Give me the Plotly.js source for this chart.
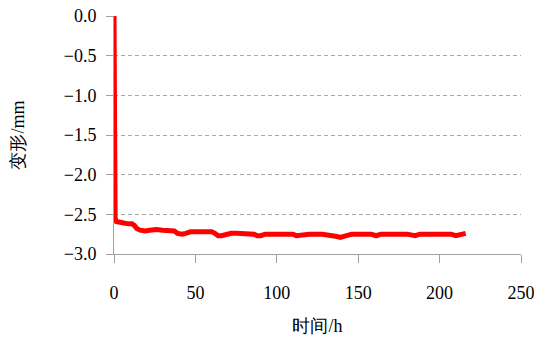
<!DOCTYPE html>
<html>
<head>
<meta charset="utf-8">
<script src="https://cdn.plot.ly/plotly-3.0.1.min.js"></script>
<style>html,body{margin:0;padding:0;background:#fff;}#chart{width:534px;height:341px;}</style>
</head>
<body>
<div id="chart"></div>
<script>
// time in hours
const timeH = [0, 0.3, 0.5, 0.7, 1.5, 3, 6, 9, 11, 12.5, 14, 16, 19, 22, 24, 26, 30, 35, 37, 39, 42, 44, 47, 50, 55, 60, 62, 64, 66, 69, 72, 75, 80, 84, 86, 88, 90, 93, 97, 105, 110, 112, 115, 120, 128, 134, 137, 139, 142, 146, 152, 158, 161, 164, 170, 180, 185, 188, 192, 200, 207, 210, 213, 216];
// deformation in mm
const deformMm = [0, -0.78, -0.80, -2.55, -2.59, -2.60, -2.61, -2.62, -2.62, -2.64, -2.68, -2.70, -2.71, -2.70, -2.69, -2.69, -2.70, -2.70, -2.71, -2.74, -2.75, -2.74, -2.72, -2.72, -2.72, -2.72, -2.74, -2.77, -2.77, -2.75, -2.74, -2.74, -2.74, -2.74, -2.75, -2.77, -2.77, -2.75, -2.75, -2.75, -2.75, -2.77, -2.76, -2.75, -2.75, -2.76, -2.78, -2.79, -2.77, -2.75, -2.75, -2.75, -2.77, -2.75, -2.75, -2.75, -2.77, -2.75, -2.75, -2.75, -2.75, -2.77, -2.75, -2.74];
const xTicks = [0, 50, 100, 150, 200, 250];
const yTicks = [0, -0.5, -1, -1.5, -2, -2.5, -3];
const yTickText = ['0.0', '\u22120.5', '\u22121.0', '\u22121.5', '\u22122.0', '\u22122.5', '\u22123.0'];

const fontFam = "'Liberation Serif', 'DejaVu Serif', serif";
const trace = {
  x: timeH, y: deformMm, type: 'scatter', mode: 'lines',
  line: {color: '#ff0000', width: 5},
  hoverinfo: 'skip', showlegend: false
};
const layout = {
  width: 534, height: 341,
  margin: {l: 114, r: 13, t: 16, b: 87},
  paper_bgcolor: '#fff', plot_bgcolor: '#fff',
  font: {family: fontFam, size: 18, color: '#000'},
  xaxis: {
    range: [0, 250], tickvals: xTicks, ticktext: xTicks.map(String),
    showgrid: false, zeroline: false, showline: true, linecolor: '#a0a0a0', linewidth: 1,
    ticks: 'outside', ticklen: 8, tickcolor: '#a0a0a0', ticklabelstandoff: 14,
    ticklabeloverflow: 'allow',
    title: {text: '时间/h', font: {family: fontFam, size: 18}, standoff: 17}
  },
  yaxis: {
    range: [-3, 0], tickvals: yTicks, ticktext: yTickText,
    showgrid: true, gridcolor: '#a8a8a8', griddash: '4px,3px', gridwidth: 1,
    zeroline: false, showline: true, linecolor: '#a0a0a0', linewidth: 1,
    ticks: 'outside', ticklen: 7, tickcolor: '#a0a0a0', ticklabelstandoff: 6,
    ticklabeloverflow: 'allow',
    title: {text: '变形/mm', font: {family: fontFam, size: 18}, standoff: 34}
  }
};
Plotly.newPlot('chart', [trace], layout, {staticPlot: true, displayModeBar: false});
</script>
</body>
</html>
